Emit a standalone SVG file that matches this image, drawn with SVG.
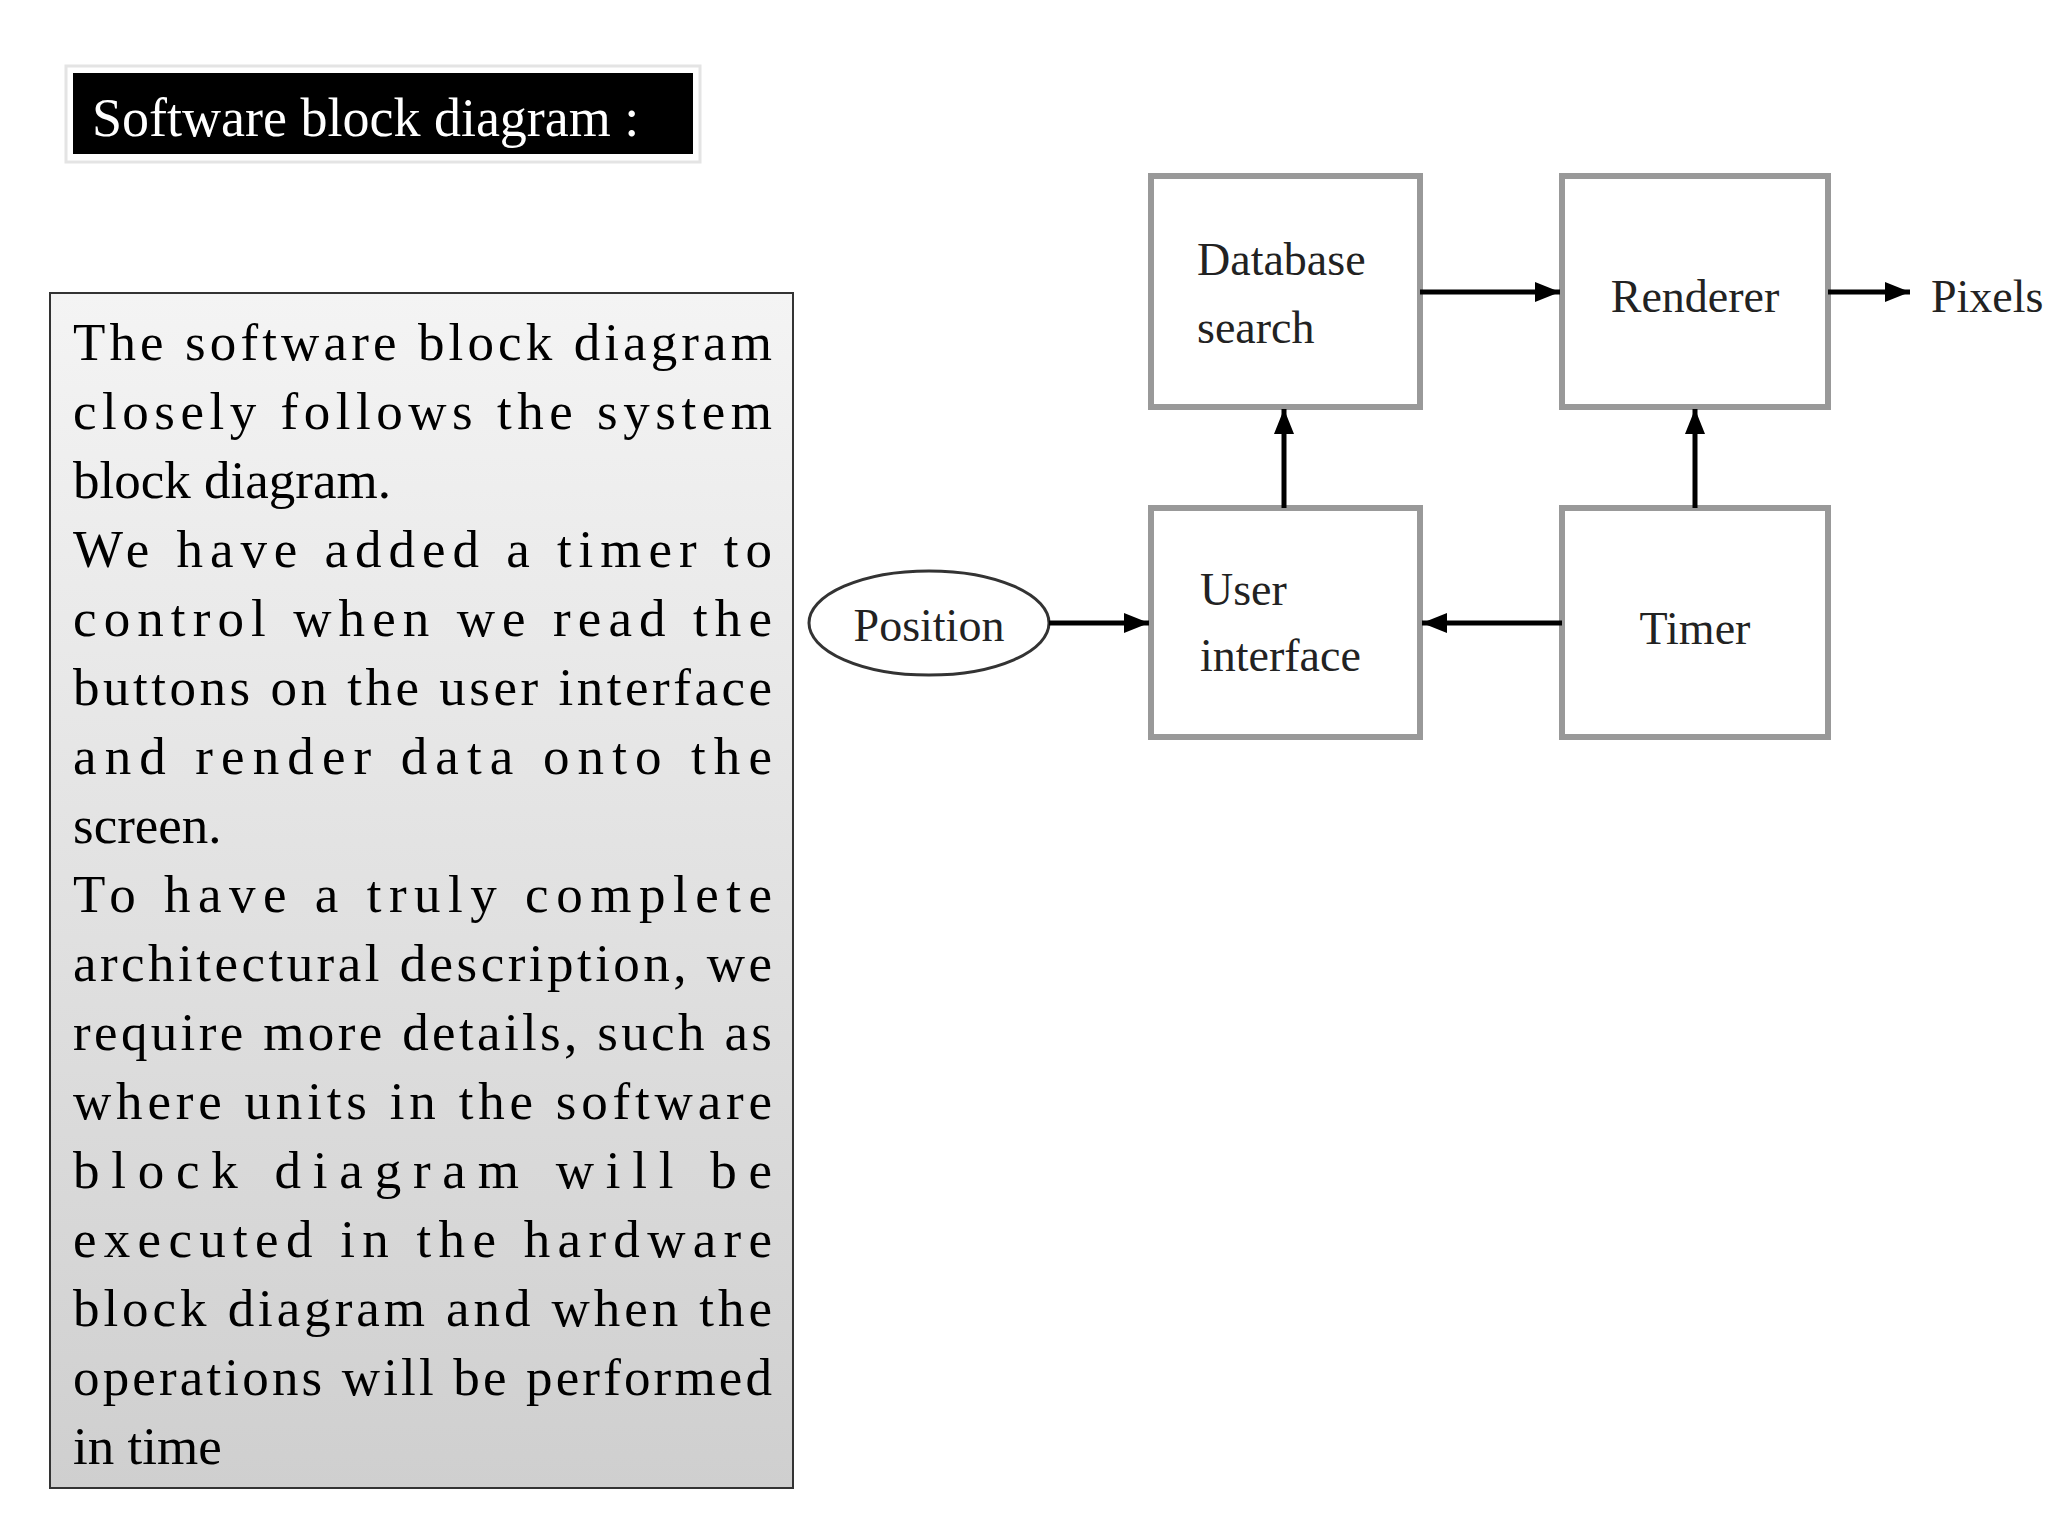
<svg xmlns="http://www.w3.org/2000/svg" width="2048" height="1536" viewBox="0 0 2048 1536">
<defs>
<linearGradient id="g" x1="0" y1="0" x2="0" y2="1"><stop offset="0" stop-color="#f4f4f4"/><stop offset="1" stop-color="#cfcfcf"/></linearGradient>
<marker id="a" viewBox="0 0 10 10" refX="10" refY="5" markerWidth="5" markerHeight="5" orient="auto"><path d="M0,1 L10,5 L0,9 z" fill="#000"/></marker>
</defs>
<style>
.b{fill:#fff;stroke:#999;stroke-width:6}
.l{font-family:"Liberation Serif",serif;font-size:46px;fill:#222}
.t{font-family:"Liberation Serif",serif;font-size:53px;fill:#000}
.c{stroke:#000;stroke-width:5;fill:none;marker-end:url(#a)}
</style>
<rect width="2048" height="1536" fill="#fff"/>
<g id="title">
<rect x="66" y="66" width="634" height="96" fill="#fff" stroke="#e4e4e4" stroke-width="3"/>
<rect x="73" y="73" width="620" height="81" fill="#000"/>
<text x="92" y="136" font-family="Liberation Serif,serif" font-size="54" fill="#fff">Software block diagram :</text>
</g>
<g id="textbox">
<rect x="50" y="293" width="743" height="1195" fill="url(#g)" stroke="#333" stroke-width="2"/>
<text class="t" x="73" y="360" textLength="699" lengthAdjust="spacing">The software block diagram</text>
<text class="t" x="73" y="429" textLength="699" lengthAdjust="spacing">closely follows the system</text>
<text class="t" x="73" y="498">block diagram.</text>
<text class="t" x="73" y="567" textLength="699" lengthAdjust="spacing">We have added a timer to</text>
<text class="t" x="73" y="636" textLength="699" lengthAdjust="spacing">control when we read the</text>
<text class="t" x="73" y="705" textLength="699" lengthAdjust="spacing">buttons on the user interface</text>
<text class="t" x="73" y="774" textLength="699" lengthAdjust="spacing">and render data onto the</text>
<text class="t" x="73" y="843">screen.</text>
<text class="t" x="73" y="912" textLength="699" lengthAdjust="spacing">To have a truly complete</text>
<text class="t" x="73" y="981" textLength="699" lengthAdjust="spacing">architectural description, we</text>
<text class="t" x="73" y="1050" textLength="699" lengthAdjust="spacing">require more details, such as</text>
<text class="t" x="73" y="1119" textLength="699" lengthAdjust="spacing">where units in the software</text>
<text class="t" x="73" y="1188" textLength="699" lengthAdjust="spacing">block diagram will be</text>
<text class="t" x="73" y="1257" textLength="699" lengthAdjust="spacing">executed in the hardware</text>
<text class="t" x="73" y="1326" textLength="699" lengthAdjust="spacing">block diagram and when the</text>
<text class="t" x="73" y="1395" textLength="699" lengthAdjust="spacing">operations will be performed</text>
<text class="t" x="73" y="1464">in time</text>
</g>
<g id="db"><rect class="b" x="1151" y="176" width="269" height="231"/>
<text class="l" x="1197" y="275">Database</text><text class="l" x="1197" y="343">search</text></g>
<g id="renderer"><rect class="b" x="1562" y="176" width="266" height="231"/>
<text class="l" x="1695" y="312" text-anchor="middle">Renderer</text></g>
<g id="ui"><rect class="b" x="1151" y="508" width="269" height="229"/>
<text class="l" x="1200" y="605">User</text><text class="l" x="1200" y="671">interface</text></g>
<g id="timer"><rect class="b" x="1562" y="508" width="266" height="229"/>
<text class="l" x="1695" y="644" text-anchor="middle">Timer</text></g>
<g id="position"><ellipse cx="929" cy="623" rx="120" ry="52" fill="#fff" stroke="#333" stroke-width="3"/>
<text class="l" x="929" y="641" text-anchor="middle">Position</text></g>
<g id="pixels"><text class="l" x="1931" y="312">Pixels</text></g>
<g id="connectors">
<line class="c" x1="1420" y1="292" x2="1560" y2="292"/>
<line class="c" x1="1828" y1="292" x2="1910" y2="292"/>
<line class="c" x1="1284" y1="508" x2="1284" y2="409"/>
<line class="c" x1="1695" y1="508" x2="1695" y2="409"/>
<line class="c" x1="1562" y1="623" x2="1422" y2="623"/>
<line class="c" x1="1049" y1="623" x2="1149" y2="623"/>
</g>
</svg>
